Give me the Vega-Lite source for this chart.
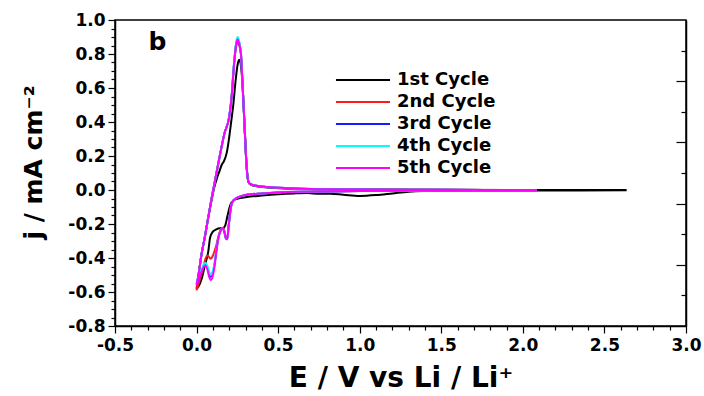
{
  "$schema": "https://vega.github.io/schema/vega-lite/v6.json",
  "width": 571,
  "height": 306,
  "autosize": {"type": "none"},
  "padding": {"left": 115, "top": 20, "right": 18, "bottom": 70},
  "background": "white",
  "datasets": {
    "cv": [
      {"c":"1st Cycle","i":1,"E":0,"j":-0.58},{"c":"1st Cycle","i":2,"E":0.012,"j":-0.5},{"c":"1st Cycle","i":3,"E":0.03,"j":-0.38},{"c":"1st Cycle","i":4,"E":0.05,"j":-0.28},{"c":"1st Cycle","i":5,"E":0.07,"j":-0.17},{"c":"1st Cycle","i":6,"E":0.09,"j":-0.07},{"c":"1st Cycle","i":7,"E":0.11,"j":0.02},{"c":"1st Cycle","i":8,"E":0.125,"j":0.07},{"c":"1st Cycle","i":9,"E":0.14,"j":0.11},{"c":"1st Cycle","i":10,"E":0.155,"j":0.15},{"c":"1st Cycle","i":11,"E":0.168,"j":0.17},{"c":"1st Cycle","i":12,"E":0.185,"j":0.22},{"c":"1st Cycle","i":13,"E":0.2,"j":0.31},{"c":"1st Cycle","i":14,"E":0.212,"j":0.4},{"c":"1st Cycle","i":15,"E":0.225,"j":0.5},{"c":"1st Cycle","i":16,"E":0.24,"j":0.65},{"c":"1st Cycle","i":17,"E":0.252,"j":0.74},{"c":"1st Cycle","i":18,"E":0.262,"j":0.766},{"c":"1st Cycle","i":19,"E":0.272,"j":0.73},{"c":"1st Cycle","i":20,"E":0.283,"j":0.6},{"c":"1st Cycle","i":21,"E":0.293,"j":0.4},{"c":"1st Cycle","i":22,"E":0.303,"j":0.2},{"c":"1st Cycle","i":23,"E":0.312,"j":0.08},{"c":"1st Cycle","i":24,"E":0.322,"j":0.04},{"c":"1st Cycle","i":25,"E":0.35,"j":0.025},{"c":"1st Cycle","i":26,"E":0.4,"j":0.018},{"c":"1st Cycle","i":27,"E":0.6,"j":0.008},{"c":"1st Cycle","i":28,"E":1.0,"j":0.003},{"c":"1st Cycle","i":29,"E":2.0,"j":0.0},{"c":"1st Cycle","i":30,"E":2.63,"j":0.0},{"c":"1st Cycle","i":31,"E":2.63,"j":-0.002},{"c":"1st Cycle","i":32,"E":2.0,"j":-0.003},{"c":"1st Cycle","i":33,"E":1.5,"j":-0.005},{"c":"1st Cycle","i":34,"E":1.3,"j":-0.01},{"c":"1st Cycle","i":35,"E":1.2,"j":-0.02},{"c":"1st Cycle","i":36,"E":1.1,"j":-0.03},{"c":"1st Cycle","i":37,"E":1.0,"j":-0.035},{"c":"1st Cycle","i":38,"E":0.9,"j":-0.028},{"c":"1st Cycle","i":39,"E":0.82,"j":-0.022},{"c":"1st Cycle","i":40,"E":0.75,"j":-0.022},{"c":"1st Cycle","i":41,"E":0.68,"j":-0.018},{"c":"1st Cycle","i":42,"E":0.6,"j":-0.02},{"c":"1st Cycle","i":43,"E":0.5,"j":-0.025},{"c":"1st Cycle","i":44,"E":0.4,"j":-0.033},{"c":"1st Cycle","i":45,"E":0.3,"j":-0.043},{"c":"1st Cycle","i":46,"E":0.25,"j":-0.052},{"c":"1st Cycle","i":47,"E":0.226,"j":-0.06},{"c":"1st Cycle","i":48,"E":0.206,"j":-0.09},{"c":"1st Cycle","i":49,"E":0.19,"j":-0.15},{"c":"1st Cycle","i":50,"E":0.175,"j":-0.21},{"c":"1st Cycle","i":51,"E":0.16,"j":-0.225},{"c":"1st Cycle","i":52,"E":0.14,"j":-0.225},{"c":"1st Cycle","i":53,"E":0.12,"j":-0.232},{"c":"1st Cycle","i":54,"E":0.1,"j":-0.245},{"c":"1st Cycle","i":55,"E":0.083,"j":-0.28},{"c":"1st Cycle","i":56,"E":0.072,"j":-0.36},{"c":"1st Cycle","i":57,"E":0.052,"j":-0.44},{"c":"1st Cycle","i":58,"E":0.032,"j":-0.52},{"c":"1st Cycle","i":59,"E":0.01,"j":-0.57},{"c":"1st Cycle","i":60,"E":0,"j":-0.58},

      {"c":"2nd Cycle","i":1,"E":0,"j":-0.59},{"c":"2nd Cycle","i":2,"E":0.012,"j":-0.5},{"c":"2nd Cycle","i":3,"E":0.03,"j":-0.38},{"c":"2nd Cycle","i":4,"E":0.05,"j":-0.28},{"c":"2nd Cycle","i":5,"E":0.07,"j":-0.17},{"c":"2nd Cycle","i":6,"E":0.09,"j":-0.06},{"c":"2nd Cycle","i":7,"E":0.11,"j":0.04},{"c":"2nd Cycle","i":8,"E":0.14,"j":0.19},{"c":"2nd Cycle","i":9,"E":0.17,"j":0.33},{"c":"2nd Cycle","i":10,"E":0.2,"j":0.43},{"c":"2nd Cycle","i":11,"E":0.215,"j":0.55},{"c":"2nd Cycle","i":12,"E":0.228,"j":0.72},{"c":"2nd Cycle","i":13,"E":0.24,"j":0.83},{"c":"2nd Cycle","i":14,"E":0.25,"j":0.875},{"c":"2nd Cycle","i":15,"E":0.26,"j":0.855},{"c":"2nd Cycle","i":16,"E":0.272,"j":0.8},{"c":"2nd Cycle","i":17,"E":0.283,"j":0.6},{"c":"2nd Cycle","i":18,"E":0.293,"j":0.4},{"c":"2nd Cycle","i":19,"E":0.303,"j":0.2},{"c":"2nd Cycle","i":20,"E":0.312,"j":0.08},{"c":"2nd Cycle","i":21,"E":0.322,"j":0.04},{"c":"2nd Cycle","i":22,"E":0.35,"j":0.028},{"c":"2nd Cycle","i":23,"E":0.4,"j":0.02},{"c":"2nd Cycle","i":24,"E":0.5,"j":0.013},{"c":"2nd Cycle","i":25,"E":0.7,"j":0.006},{"c":"2nd Cycle","i":26,"E":1.0,"j":0.003},{"c":"2nd Cycle","i":27,"E":1.5,"j":0.001},{"c":"2nd Cycle","i":28,"E":2.08,"j":0},{"c":"2nd Cycle","i":29,"E":2.08,"j":-0.001},{"c":"2nd Cycle","i":30,"E":1.5,"j":-0.003},{"c":"2nd Cycle","i":31,"E":1.0,"j":-0.006},{"c":"2nd Cycle","i":32,"E":0.7,"j":-0.01},{"c":"2nd Cycle","i":33,"E":0.5,"j":-0.014},{"c":"2nd Cycle","i":34,"E":0.4,"j":-0.02},{"c":"2nd Cycle","i":35,"E":0.3,"j":-0.03},{"c":"2nd Cycle","i":36,"E":0.25,"j":-0.045},{"c":"2nd Cycle","i":37,"E":0.23,"j":-0.058},{"c":"2nd Cycle","i":38,"E":0.215,"j":-0.08},{"c":"2nd Cycle","i":39,"E":0.205,"j":-0.14},{"c":"2nd Cycle","i":40,"E":0.196,"j":-0.22},{"c":"2nd Cycle","i":41,"E":0.188,"j":-0.285},{"c":"2nd Cycle","i":42,"E":0.18,"j":-0.28},{"c":"2nd Cycle","i":43,"E":0.17,"j":-0.24},{"c":"2nd Cycle","i":44,"E":0.158,"j":-0.222},{"c":"2nd Cycle","i":45,"E":0.145,"j":-0.24},{"c":"2nd Cycle","i":46,"E":0.132,"j":-0.28},{"c":"2nd Cycle","i":47,"E":0.12,"j":-0.33},{"c":"2nd Cycle","i":48,"E":0.11,"j":-0.36},{"c":"2nd Cycle","i":49,"E":0.098,"j":-0.39},{"c":"2nd Cycle","i":50,"E":0.087,"j":-0.405},{"c":"2nd Cycle","i":51,"E":0.077,"j":-0.395},{"c":"2nd Cycle","i":52,"E":0.067,"j":-0.385},{"c":"2nd Cycle","i":53,"E":0.056,"j":-0.4},{"c":"2nd Cycle","i":54,"E":0.045,"j":-0.44},{"c":"2nd Cycle","i":55,"E":0.035,"j":-0.48},{"c":"2nd Cycle","i":56,"E":0.022,"j":-0.52},{"c":"2nd Cycle","i":57,"E":0.01,"j":-0.56},{"c":"2nd Cycle","i":58,"E":0,"j":-0.59},

      {"c":"3rd Cycle","i":1,"E":0,"j":-0.555},{"c":"3rd Cycle","i":2,"E":0.012,"j":-0.5},{"c":"3rd Cycle","i":3,"E":0.03,"j":-0.38},{"c":"3rd Cycle","i":4,"E":0.05,"j":-0.28},{"c":"3rd Cycle","i":5,"E":0.07,"j":-0.17},{"c":"3rd Cycle","i":6,"E":0.09,"j":-0.06},{"c":"3rd Cycle","i":7,"E":0.11,"j":0.04},{"c":"3rd Cycle","i":8,"E":0.14,"j":0.19},{"c":"3rd Cycle","i":9,"E":0.17,"j":0.33},{"c":"3rd Cycle","i":10,"E":0.2,"j":0.43},{"c":"3rd Cycle","i":11,"E":0.215,"j":0.55},{"c":"3rd Cycle","i":12,"E":0.228,"j":0.72},{"c":"3rd Cycle","i":13,"E":0.24,"j":0.84},{"c":"3rd Cycle","i":14,"E":0.25,"j":0.89},{"c":"3rd Cycle","i":15,"E":0.26,"j":0.87},{"c":"3rd Cycle","i":16,"E":0.272,"j":0.8},{"c":"3rd Cycle","i":17,"E":0.283,"j":0.6},{"c":"3rd Cycle","i":18,"E":0.293,"j":0.4},{"c":"3rd Cycle","i":19,"E":0.303,"j":0.2},{"c":"3rd Cycle","i":20,"E":0.312,"j":0.08},{"c":"3rd Cycle","i":21,"E":0.322,"j":0.04},{"c":"3rd Cycle","i":22,"E":0.35,"j":0.028},{"c":"3rd Cycle","i":23,"E":0.4,"j":0.02},{"c":"3rd Cycle","i":24,"E":0.5,"j":0.013},{"c":"3rd Cycle","i":25,"E":0.7,"j":0.006},{"c":"3rd Cycle","i":26,"E":1.0,"j":0.003},{"c":"3rd Cycle","i":27,"E":1.5,"j":0.001},{"c":"3rd Cycle","i":28,"E":2.08,"j":0},{"c":"3rd Cycle","i":29,"E":2.08,"j":-0.001},{"c":"3rd Cycle","i":30,"E":1.5,"j":-0.003},{"c":"3rd Cycle","i":31,"E":1.0,"j":-0.006},{"c":"3rd Cycle","i":32,"E":0.7,"j":-0.01},{"c":"3rd Cycle","i":33,"E":0.5,"j":-0.014},{"c":"3rd Cycle","i":34,"E":0.4,"j":-0.02},{"c":"3rd Cycle","i":35,"E":0.3,"j":-0.03},{"c":"3rd Cycle","i":36,"E":0.25,"j":-0.045},{"c":"3rd Cycle","i":37,"E":0.23,"j":-0.058},{"c":"3rd Cycle","i":38,"E":0.215,"j":-0.08},{"c":"3rd Cycle","i":39,"E":0.205,"j":-0.14},{"c":"3rd Cycle","i":40,"E":0.196,"j":-0.22},{"c":"3rd Cycle","i":41,"E":0.188,"j":-0.29},{"c":"3rd Cycle","i":42,"E":0.18,"j":-0.285},{"c":"3rd Cycle","i":43,"E":0.17,"j":-0.245},{"c":"3rd Cycle","i":44,"E":0.158,"j":-0.225},{"c":"3rd Cycle","i":45,"E":0.145,"j":-0.245},{"c":"3rd Cycle","i":46,"E":0.132,"j":-0.29},{"c":"3rd Cycle","i":47,"E":0.12,"j":-0.37},{"c":"3rd Cycle","i":48,"E":0.11,"j":-0.44},{"c":"3rd Cycle","i":49,"E":0.098,"j":-0.49},{"c":"3rd Cycle","i":50,"E":0.087,"j":-0.51},{"c":"3rd Cycle","i":51,"E":0.077,"j":-0.49},{"c":"3rd Cycle","i":52,"E":0.067,"j":-0.455},{"c":"3rd Cycle","i":53,"E":0.056,"j":-0.44},{"c":"3rd Cycle","i":54,"E":0.045,"j":-0.445},{"c":"3rd Cycle","i":55,"E":0.035,"j":-0.47},{"c":"3rd Cycle","i":56,"E":0.022,"j":-0.5},{"c":"3rd Cycle","i":57,"E":0.01,"j":-0.53},{"c":"3rd Cycle","i":58,"E":0,"j":-0.555},

      {"c":"4th Cycle","i":1,"E":0,"j":-0.55},{"c":"4th Cycle","i":2,"E":0.012,"j":-0.5},{"c":"4th Cycle","i":3,"E":0.03,"j":-0.38},{"c":"4th Cycle","i":4,"E":0.05,"j":-0.28},{"c":"4th Cycle","i":5,"E":0.07,"j":-0.17},{"c":"4th Cycle","i":6,"E":0.09,"j":-0.06},{"c":"4th Cycle","i":7,"E":0.11,"j":0.04},{"c":"4th Cycle","i":8,"E":0.14,"j":0.19},{"c":"4th Cycle","i":9,"E":0.17,"j":0.33},{"c":"4th Cycle","i":10,"E":0.2,"j":0.43},{"c":"4th Cycle","i":11,"E":0.215,"j":0.55},{"c":"4th Cycle","i":12,"E":0.228,"j":0.73},{"c":"4th Cycle","i":13,"E":0.24,"j":0.85},{"c":"4th Cycle","i":14,"E":0.25,"j":0.9},{"c":"4th Cycle","i":15,"E":0.26,"j":0.88},{"c":"4th Cycle","i":16,"E":0.272,"j":0.8},{"c":"4th Cycle","i":17,"E":0.283,"j":0.6},{"c":"4th Cycle","i":18,"E":0.293,"j":0.4},{"c":"4th Cycle","i":19,"E":0.303,"j":0.2},{"c":"4th Cycle","i":20,"E":0.312,"j":0.08},{"c":"4th Cycle","i":21,"E":0.322,"j":0.04},{"c":"4th Cycle","i":22,"E":0.35,"j":0.028},{"c":"4th Cycle","i":23,"E":0.4,"j":0.02},{"c":"4th Cycle","i":24,"E":0.5,"j":0.013},{"c":"4th Cycle","i":25,"E":0.7,"j":0.006},{"c":"4th Cycle","i":26,"E":1.0,"j":0.003},{"c":"4th Cycle","i":27,"E":1.5,"j":0.001},{"c":"4th Cycle","i":28,"E":2.08,"j":0},{"c":"4th Cycle","i":29,"E":2.08,"j":-0.001},{"c":"4th Cycle","i":30,"E":1.5,"j":-0.003},{"c":"4th Cycle","i":31,"E":1.0,"j":-0.006},{"c":"4th Cycle","i":32,"E":0.7,"j":-0.01},{"c":"4th Cycle","i":33,"E":0.5,"j":-0.014},{"c":"4th Cycle","i":34,"E":0.4,"j":-0.02},{"c":"4th Cycle","i":35,"E":0.3,"j":-0.03},{"c":"4th Cycle","i":36,"E":0.25,"j":-0.045},{"c":"4th Cycle","i":37,"E":0.23,"j":-0.058},{"c":"4th Cycle","i":38,"E":0.215,"j":-0.08},{"c":"4th Cycle","i":39,"E":0.205,"j":-0.14},{"c":"4th Cycle","i":40,"E":0.196,"j":-0.22},{"c":"4th Cycle","i":41,"E":0.188,"j":-0.29},{"c":"4th Cycle","i":42,"E":0.18,"j":-0.285},{"c":"4th Cycle","i":43,"E":0.17,"j":-0.245},{"c":"4th Cycle","i":44,"E":0.158,"j":-0.225},{"c":"4th Cycle","i":45,"E":0.145,"j":-0.245},{"c":"4th Cycle","i":46,"E":0.132,"j":-0.29},{"c":"4th Cycle","i":47,"E":0.12,"j":-0.36},{"c":"4th Cycle","i":48,"E":0.11,"j":-0.43},{"c":"4th Cycle","i":49,"E":0.098,"j":-0.48},{"c":"4th Cycle","i":50,"E":0.087,"j":-0.5},{"c":"4th Cycle","i":51,"E":0.077,"j":-0.48},{"c":"4th Cycle","i":52,"E":0.067,"j":-0.45},{"c":"4th Cycle","i":53,"E":0.056,"j":-0.43},{"c":"4th Cycle","i":54,"E":0.045,"j":-0.435},{"c":"4th Cycle","i":55,"E":0.035,"j":-0.46},{"c":"4th Cycle","i":56,"E":0.022,"j":-0.49},{"c":"4th Cycle","i":57,"E":0.01,"j":-0.52},{"c":"4th Cycle","i":58,"E":0,"j":-0.55},

      {"c":"5th Cycle","i":1,"E":0,"j":-0.56},{"c":"5th Cycle","i":2,"E":0.012,"j":-0.5},{"c":"5th Cycle","i":3,"E":0.03,"j":-0.38},{"c":"5th Cycle","i":4,"E":0.05,"j":-0.28},{"c":"5th Cycle","i":5,"E":0.07,"j":-0.17},{"c":"5th Cycle","i":6,"E":0.09,"j":-0.06},{"c":"5th Cycle","i":7,"E":0.11,"j":0.04},{"c":"5th Cycle","i":8,"E":0.14,"j":0.19},{"c":"5th Cycle","i":9,"E":0.17,"j":0.33},{"c":"5th Cycle","i":10,"E":0.2,"j":0.43},{"c":"5th Cycle","i":11,"E":0.215,"j":0.55},{"c":"5th Cycle","i":12,"E":0.228,"j":0.72},{"c":"5th Cycle","i":13,"E":0.24,"j":0.84},{"c":"5th Cycle","i":14,"E":0.25,"j":0.885},{"c":"5th Cycle","i":15,"E":0.26,"j":0.865},{"c":"5th Cycle","i":16,"E":0.272,"j":0.8},{"c":"5th Cycle","i":17,"E":0.283,"j":0.6},{"c":"5th Cycle","i":18,"E":0.293,"j":0.4},{"c":"5th Cycle","i":19,"E":0.303,"j":0.2},{"c":"5th Cycle","i":20,"E":0.312,"j":0.08},{"c":"5th Cycle","i":21,"E":0.322,"j":0.04},{"c":"5th Cycle","i":22,"E":0.35,"j":0.028},{"c":"5th Cycle","i":23,"E":0.4,"j":0.02},{"c":"5th Cycle","i":24,"E":0.5,"j":0.013},{"c":"5th Cycle","i":25,"E":0.7,"j":0.006},{"c":"5th Cycle","i":26,"E":1.0,"j":0.003},{"c":"5th Cycle","i":27,"E":1.5,"j":0.001},{"c":"5th Cycle","i":28,"E":2.08,"j":0},{"c":"5th Cycle","i":29,"E":2.08,"j":-0.001},{"c":"5th Cycle","i":30,"E":1.5,"j":-0.003},{"c":"5th Cycle","i":31,"E":1.0,"j":-0.006},{"c":"5th Cycle","i":32,"E":0.7,"j":-0.01},{"c":"5th Cycle","i":33,"E":0.5,"j":-0.014},{"c":"5th Cycle","i":34,"E":0.4,"j":-0.02},{"c":"5th Cycle","i":35,"E":0.3,"j":-0.03},{"c":"5th Cycle","i":36,"E":0.25,"j":-0.045},{"c":"5th Cycle","i":37,"E":0.23,"j":-0.058},{"c":"5th Cycle","i":38,"E":0.215,"j":-0.08},{"c":"5th Cycle","i":39,"E":0.205,"j":-0.14},{"c":"5th Cycle","i":40,"E":0.196,"j":-0.22},{"c":"5th Cycle","i":41,"E":0.188,"j":-0.29},{"c":"5th Cycle","i":42,"E":0.18,"j":-0.285},{"c":"5th Cycle","i":43,"E":0.17,"j":-0.245},{"c":"5th Cycle","i":44,"E":0.158,"j":-0.225},{"c":"5th Cycle","i":45,"E":0.145,"j":-0.245},{"c":"5th Cycle","i":46,"E":0.132,"j":-0.29},{"c":"5th Cycle","i":47,"E":0.12,"j":-0.37},{"c":"5th Cycle","i":48,"E":0.11,"j":-0.45},{"c":"5th Cycle","i":49,"E":0.098,"j":-0.51},{"c":"5th Cycle","i":50,"E":0.087,"j":-0.53},{"c":"5th Cycle","i":51,"E":0.077,"j":-0.51},{"c":"5th Cycle","i":52,"E":0.067,"j":-0.47},{"c":"5th Cycle","i":53,"E":0.056,"j":-0.445},{"c":"5th Cycle","i":54,"E":0.045,"j":-0.45},{"c":"5th Cycle","i":55,"E":0.035,"j":-0.47},{"c":"5th Cycle","i":56,"E":0.022,"j":-0.5},{"c":"5th Cycle","i":57,"E":0.01,"j":-0.535},{"c":"5th Cycle","i":58,"E":0,"j":-0.56}
    ],
    "note": [{"E": -0.24, "j": 0.87, "t": "b"}]
  },
  "layer": [
    {
      "data": {"name": "cv"},
      "mark": {"type": "line", "strokeWidth": 2, "interpolate": "monotone"},
      "encoding": {
        "x": {
          "field": "E", "type": "quantitative",
          "scale": {"domain": [-0.5, 3.0], "nice": false, "zero": false},
          "axis": {
            "orient": "bottom",
            "title": "E / V vs Li / Li⁺",
            "values": [-0.5,-0.4,-0.3,-0.2,-0.1,0,0.1,0.2,0.3,0.4,0.5,0.6,0.7,0.8,0.9,1.0,1.1,1.2,1.3,1.4,1.5,1.6,1.7,1.8,1.9,2.0,2.1,2.2,2.3,2.4,2.5,2.6,2.7,2.8,2.9,3.0],
            "labelExpr": "abs(round(datum.value*10)) % 5 === 0 ? replace(format(datum.value, '.1f'), '−', '-') : ''",
            "tickSize": {"condition": {"test": "abs(round(datum.value*10)) % 5 === 0", "value": 7}, "value": 4},
            "labelOverlap": false,
            "labelFlush": false,
            "labelPadding": 4,
            "titlePadding": 11,
            "titleFontSize": 28
          }
        },
        "y": {
          "field": "j", "type": "quantitative",
          "scale": {"domain": [-0.8, 1.0], "nice": false, "zero": false},
          "axis": {
            "orient": "left",
            "title": "j / mA cm⁻²",
            "values": [-0.8,-0.75,-0.7,-0.65,-0.6,-0.55,-0.5,-0.45,-0.4,-0.35,-0.3,-0.25,-0.2,-0.15,-0.1,-0.05,0,0.05,0.1,0.15,0.2,0.25,0.3,0.35,0.4,0.45,0.5,0.55,0.6,0.65,0.7,0.75,0.8,0.85,0.9,0.95,1.0],
            "labelExpr": "abs(round(datum.value*20)) % 4 === 0 ? replace(format(datum.value, '.1f'), '−', '-') : ''",
            "tickSize": {"condition": {"test": "abs(round(datum.value*20)) % 4 === 0", "value": 7}, "value": 4},
            "labelOverlap": false,
            "labelFlush": false,
            "labelPadding": 3,
            "titlePadding": 21,
            "titleFontSize": 25,
            "titleY": 142
          }
        },
        "color": {
          "field": "c", "type": "nominal",
          "scale": {"domain": ["1st Cycle","2nd Cycle","3rd Cycle","4th Cycle","5th Cycle"], "range": ["#000000","#ff1a1a","#1a1aff","#00ffff","#ff00ff"]},
          "legend": {"title": null}
        },
        "order": {"field": "i", "type": "quantitative"}
      }
    },
    {
      "data": {"name": "note"},
      "mark": {"type": "text", "font": "DejaVu Sans", "fontWeight": "bold", "fontSize": 25, "align": "center", "baseline": "middle", "color": "black"},
      "encoding": {
        "x": {
          "field": "E", "type": "quantitative",
          "axis": {
            "orient": "bottom",
            "title": "E / V vs Li / Li⁺",
            "values": [-0.5,-0.4,-0.3,-0.2,-0.1,0,0.1,0.2,0.3,0.4,0.5,0.6,0.7,0.8,0.9,1.0,1.1,1.2,1.3,1.4,1.5,1.6,1.7,1.8,1.9,2.0,2.1,2.2,2.3,2.4,2.5,2.6,2.7,2.8,2.9,3.0],
            "labelExpr": "abs(round(datum.value*10)) % 5 === 0 ? replace(format(datum.value, '.1f'), '−', '-') : ''",
            "tickSize": {"condition": {"test": "abs(round(datum.value*10)) % 5 === 0", "value": 7}, "value": 4},
            "labelOverlap": false,
            "labelFlush": false,
            "labelPadding": 4,
            "titlePadding": 11,
            "titleFontSize": 28
          }
        },
        "y": {
          "field": "j", "type": "quantitative",
          "axis": {
            "orient": "right",
            "title": null,
            "labels": false,
            "values": [-0.62,-0.44,-0.26,-0.08,0.1,0.28,0.46,0.64,0.82],
            "tickSize": {"condition": {"test": "indexof([-0.44,-0.08,0.28,0.64], datum.value) >= 0", "value": -10}, "value": -5}
          }
        },
        "text": {"field": "t"}
      }
    }
  ],
  "config": {
    "view": {"stroke": "black", "strokeWidth": 1.5},
    "axis": {
      "grid": false,
      "domainColor": "black",
      "domainWidth": 1.5,
      "tickColor": "black",
      "tickWidth": 1.2,
      "labelFont": "DejaVu Sans",
      "labelFontWeight": "bold",
      "labelFontSize": 17,
      "labelColor": "black",
      "titleFont": "DejaVu Sans",
      "titleFontWeight": "bold",
      "titleColor": "black"
    },
    "axisX": {"labelOverlap": false, "labelFlush": false},
    "legend": {
      "orient": "none",
      "legendX": 239,
      "legendY": 51,
      "padding": 0,
      "symbolType": "M-5,0H5",
      "symbolSize": 117,
      "symbolStrokeWidth": 2,
      "labelFont": "DejaVu Sans",
      "labelFontWeight": "bold",
      "labelFontSize": 18,
      "labelColor": "black",
      "labelOffset": 25,
      "rowPadding": 4
    }
  }
}
